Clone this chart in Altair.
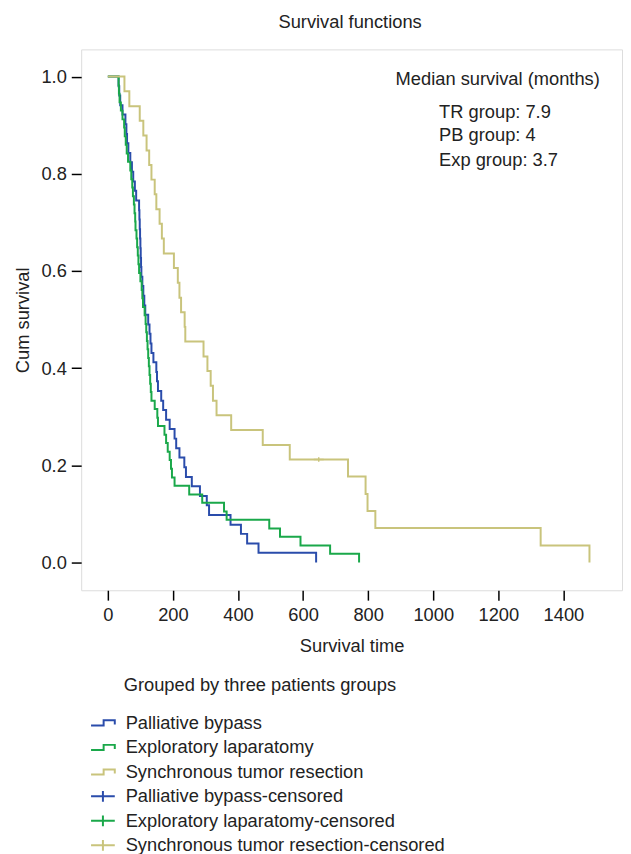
import altair as alt
import pandas as pd

# ---- data (time in days, cumulative survival) ----
pb_time = [0, 33, 35, 38, 45, 54, 57, 59, 63, 69, 74, 78, 83, 87, 96, 97, 98, 99, 100, 101, 102,
           103, 106, 109, 112, 115, 124, 128, 131, 134, 140, 149, 151, 154, 164, 170, 179, 190,
           205, 210, 220, 235, 240, 258, 283, 304, 311, 377, 409, 428, 463, 640]
pb_surv = [1.0, 0.980, 0.961, 0.941, 0.922, 0.902, 0.882, 0.863, 0.843, 0.824, 0.804, 0.784, 0.765,
           0.745, 0.725, 0.706, 0.686, 0.667, 0.647, 0.627, 0.608, 0.588, 0.569, 0.549, 0.529, 0.510,
           0.490, 0.471, 0.451, 0.431, 0.412, 0.392, 0.373, 0.353, 0.333, 0.314, 0.294, 0.275, 0.255,
           0.235, 0.216, 0.196, 0.176, 0.157, 0.137, 0.118, 0.098, 0.078, 0.059, 0.039, 0.020, 0.000]

exp_time = [0, 33, 34, 36, 40, 45, 50, 52, 55, 58, 62, 69, 72, 75, 77, 80, 82, 84, 85, 88, 90, 92,
            94, 96, 100, 104, 106, 108, 113, 116, 118, 120, 122, 124, 126, 128, 130, 132, 134, 144,
            152, 154, 174, 179, 184, 190, 194, 197, 205, 250, 290, 357, 365, 496, 529, 592, 683, 772]
exp_surv = [1.0, 0.982, 0.965, 0.947, 0.930, 0.912, 0.895, 0.877, 0.860, 0.842, 0.825, 0.807, 0.789,
            0.772, 0.754, 0.737, 0.719, 0.702, 0.684, 0.667, 0.649, 0.632, 0.614, 0.596, 0.579, 0.561,
            0.544, 0.526, 0.509, 0.491, 0.474, 0.456, 0.439, 0.421, 0.404, 0.386, 0.368, 0.351, 0.333,
            0.316, 0.298, 0.281, 0.263, 0.246, 0.228, 0.211, 0.193, 0.175, 0.158, 0.140, 0.123, 0.105,
            0.088, 0.070, 0.053, 0.035, 0.018, 0.000]

tr_time = [0, 51, 66, 98, 109, 119, 127, 134, 144, 149, 159, 166, 172, 203, 215, 220, 225, 236, 238,
           294, 306, 316, 323, 334, 379, 476, 559, 738, 792, 798, 822, 1330, 1480]
tr_surv = [1.0, 0.970, 0.939, 0.909, 0.879, 0.848, 0.818, 0.788, 0.758, 0.727, 0.697, 0.667, 0.636,
           0.606, 0.576, 0.545, 0.515, 0.485, 0.455, 0.424, 0.394, 0.364, 0.333, 0.303, 0.273, 0.242,
           0.212, 0.177, 0.141, 0.106, 0.071, 0.035, 0.000]

tr_cens_time = [648]
tr_cens_surv = [0.212]

labels = ["Palliative bypass", "Exploratory laparatomy", "Synchronous tumor resection",
          "Palliative bypass-censored", "Exploratory laparatomy-censored",
          "Synchronous tumor resection-censored"]
colors = ["#2a4cab", "#1aa84a", "#c9c47c", "#2a4cab", "#1aa84a", "#c9c47c"]
step_icon = "M-1,0.23L0.06,0.23L0.06,-0.2L1,-0.2L1,0.14"
plus_icon = "M-1,0L1,0M0,-0.45L0,0.45"
shapes = [step_icon, step_icon, step_icon, plus_icon, plus_icon, plus_icon]

x_ticks = [0, 200, 400, 600, 800, 1000, 1200, 1400]
y_ticks = [0.0, 0.2, 0.4, 0.6, 0.8, 1.0]

title_text = "Survival functions"
legend_title = "Grouped by three patients groups"
median_head = "Median survival (months)"
median_lines = ["TR group: 7.9", "PB group: 4", "Exp group: 3.7"]

FONT = "Liberation Sans"
FS = 18.5
TXT = "#222222"

curves = pd.concat([
    pd.DataFrame({"t": pb_time, "s": pb_surv, "series": labels[0], "o": 0}),
    pd.DataFrame({"t": exp_time, "s": exp_surv, "series": labels[1], "o": 1}),
    pd.DataFrame({"t": tr_time, "s": tr_surv, "series": labels[2], "o": 2}),
], ignore_index=True)
cens = pd.DataFrame({"t": tr_cens_time, "s": tr_cens_surv, "series": labels[5]})

xs = alt.Scale(domain=[-82, 1580], nice=False, zero=False)
ys = alt.Scale(domain=[-0.057, 1.056], nice=False, zero=False)
cs = alt.Scale(domain=labels, range=colors)
ss = alt.Scale(domain=labels, range=shapes)

leg = alt.Legend(title=None, orient="none", legendX=9, legendY=668, padding=0,
                 labelFont=FONT, labelFontSize=FS, labelColor=TXT, labelOffset=10,
                 symbolSize=576, symbolStrokeWidth=2, symbolFillColor="transparent",
                 symbolOpacity=1, rowPadding=1.8, labelLimit=500)

xaxis = alt.Axis(values=x_ticks, format="d", title="Survival time", grid=False, domain=False,
                 tickSize=10, tickWidth=1.5, tickColor="black", labelPadding=6,
                 labelFont=FONT, labelFontSize=FS, labelColor=TXT,
                 titleFont=FONT, titleFontSize=FS, titleColor=TXT, titleFontWeight="normal",
                 titlePadding=12)
yaxis = alt.Axis(values=y_ticks, format=".1f", title="Cum survival", grid=False, domain=False,
                 tickSize=10, tickWidth=1.5, tickColor="black", labelPadding=5,
                 labelFont=FONT, labelFontSize=FS, labelColor=TXT,
                 titleFont=FONT, titleFontSize=FS, titleColor=TXT, titleFontWeight="normal",
                 titlePadding=9)

lines = alt.Chart(curves).mark_line(interpolate="step-after", strokeWidth=2).encode(
    x=alt.X("t:Q", scale=xs, axis=xaxis),
    y=alt.Y("s:Q", scale=ys, axis=yaxis),
    color=alt.Color("series:N", scale=cs, legend=leg),
    order=alt.Order("t:Q"),
    detail="o:N",
)

cens_pts = alt.Chart(cens).mark_point(shape="M0,-1L0,1", size=100, strokeWidth=1.5,
                                      filled=False, opacity=1).encode(
    x=alt.X("t:Q", scale=xs),
    y=alt.Y("s:Q", scale=ys),
    color=alt.Color("series:N", scale=cs, legend=leg),
    shape=alt.Shape("series:N", scale=ss, legend=leg),
)


def txt(s, x, y, align="left"):
    return alt.Chart(pd.DataFrame({"label": [s]})).mark_text(
        font=FONT, fontSize=FS, color=TXT, align=align, baseline="alphabetic"
    ).encode(x=alt.value(x), y=alt.value(y), text="label:N")


texts = [
    txt(title_text, 272, -22, "center"),
    txt(median_head, 318, 36),
    txt(median_lines[0], 362, 69),
    txt(median_lines[1], 362, 92.5),
    txt(median_lines[2], 362, 117.5),
    txt(legend_title, 43, 648.5),
]

chart = alt.layer(lines, cens_pts, *texts).properties(
    width=547, height=547,
    autosize=alt.AutoSizeParams(type="none"),
    padding={"left": 74, "top": 37, "right": 1, "bottom": 272},
).configure_view(stroke="black", strokeWidth=2).configure(background="white")

chart.save("out.html", embed_options={"renderer": "svg", "actions": False})
